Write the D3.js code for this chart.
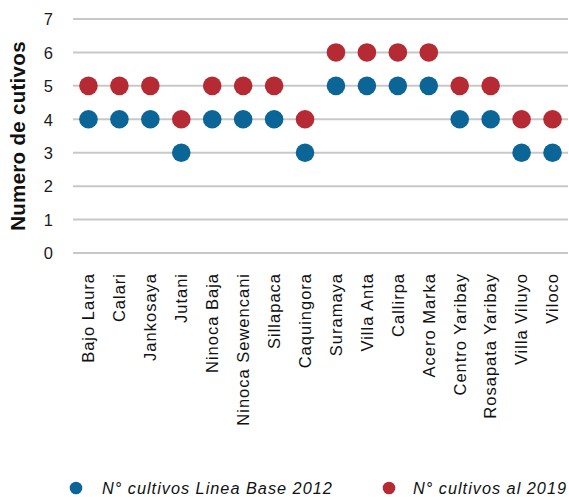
<!DOCTYPE html>
<html>
<head>
<meta charset="utf-8">
<script src="https://cdn.jsdelivr.net/npm/d3@7"></script>
<style>
  html, body { margin: 0; padding: 0; background: #fff; }
  svg { display: block; font-family: "Liberation Sans", Arial, sans-serif; }
</style>
</head>
<body>
<svg id="chart" width="569" height="497"></svg>
<script>
// Communities surveyed
const categories = [
  "Bajo Laura", "Calari", "Jankosaya", "Jutani", "Ninoca Baja", "Ninoca Sewencani",
  "Sillapaca", "Caquingora", "Suramaya", "Villa Anta", "Callirpa", "Acero Marka",
  "Centro Yaribay", "Rosapata Yaribay", "Villa Viluyo", "Viloco"
];
// Number of crops per community, baseline 2012
const base2012 = [4, 4, 4, 3, 4, 4, 4, 3, 5, 5, 5, 5, 4, 4, 3, 3];
// Number of crops per community, 2019
const al2019 = [5, 5, 5, 4, 5, 5, 5, 4, 6, 6, 6, 6, 5, 5, 4, 4];
const yTicks = [0, 1, 2, 3, 4, 5, 6, 7];
const seriesNames = ["N° cultivos Linea Base 2012", "N° cultivos al 2019"];
const seriesColors = ["#0b6596", "#b52a33"];

const svg = d3.select("#chart");

const x = d3.scaleBand().domain(categories).range([73, 568]).padding(0);
const y = d3.scaleLinear().domain([0, 7]).range([253, 19]);

// Horizontal gridlines
svg.append("g")
  .selectAll("line")
  .data(yTicks)
  .join("line")
  .attr("x1", 73).attr("x2", 568)
  .attr("y1", d => y(d)).attr("y2", d => y(d))
  .attr("stroke", "#c8c8c8")
  .attr("stroke-width", 2);

// Y axis tick labels
const yAxis = d3.axisLeft(y).tickValues(yTicks).tickSize(0).tickPadding(0).tickFormat(d3.format("d"));
const yg = svg.append("g").attr("transform", "translate(53,0)").call(yAxis);
yg.select(".domain").remove();
yg.selectAll("text")
  .attr("font-family", "Liberation Sans, Arial, sans-serif")
  .attr("font-size", 16.5)
  .attr("fill", "#1a1a1a")
  .attr("dy", "0.35em");

// Y axis title
svg.append("text")
  .attr("transform", `translate(25,${(y(0) + y(7)) / 2}) rotate(-90)`)
  .attr("text-anchor", "middle")
  .attr("font-size", 20.5)
  .attr("font-weight", "bold")
  .attr("letter-spacing", 0.3)
  .attr("fill", "#111")
  .text("Numero de cutivos");

// X axis category labels (rotated)
const xAxis = d3.axisBottom(x).tickSize(0).tickPadding(0);
const xg = svg.append("g").attr("transform", "translate(0,273)").call(xAxis);
xg.select(".domain").remove();
xg.selectAll("text")
  .attr("font-family", "Liberation Sans, Arial, sans-serif")
  .attr("font-size", 16.5)
  .attr("letter-spacing", 1.0)
  .attr("fill", "#111")
  .attr("text-anchor", "end")
  .attr("transform", "rotate(-90)")
  .attr("x", 0)
  .attr("y", 0)
  .attr("dy", "0.35em");

// Dots: 2019 drawn first, baseline on top
const seriesData = [base2012, al2019];
[1, 0].forEach(si => {
  svg.append("g")
    .selectAll("circle")
    .data(categories.map((c, i) => ({ c, v: seriesData[si][i] })))
    .join("circle")
    .attr("cx", d => x(d.c) + x.bandwidth() / 2)
    .attr("cy", d => y(d.v))
    .attr("r", 9.3)
    .attr("fill", seriesColors[si]);
});

// Legend
const legendItems = [
  { name: seriesNames[0], color: seriesColors[0], cx: 76, tx: 102 },
  { name: seriesNames[1], color: seriesColors[1], cx: 389, tx: 413 }
];
const lg = svg.append("g");
legendItems.forEach(it => {
  lg.append("circle").attr("cx", it.cx).attr("cy", 488).attr("r", 6.3).attr("fill", it.color);
  lg.append("text")
    .attr("x", it.tx).attr("y", 494)
    .attr("font-size", 16.3)
    .attr("font-style", "italic")
    .attr("letter-spacing", 1.0)
    .attr("fill", "#111")
    .text(it.name);
});
</script>
</body>
</html>
